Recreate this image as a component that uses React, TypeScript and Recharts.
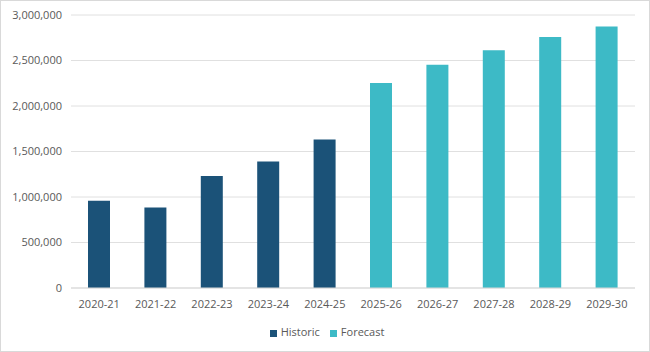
import { Bar, BarChart, CartesianGrid, Legend, XAxis, YAxis } from 'recharts';

const years = ['2020-21', '2021-22', '2022-23', '2023-24', '2024-25', '2025-26', '2026-27', '2027-28', '2028-29', '2029-30'];
const historic = [960000, 885000, 1232000, 1390000, 1632000, null, null, null, null, null];
const forecast = [null, null, null, null, null, 2253000, 2452000, 2614000, 2757000, 2875000];
const yTicks = [0, 500000, 1000000, 1500000, 2000000, 2500000, 3000000];

const data = years.map((year, i) => ({
  year,
  historic: historic[i],
  forecast: forecast[i],
}));

const fmt = (v: number) => v.toLocaleString('en-US');
const legendOrder = ['Historic', 'Forecast'];

export default function App() {
  return (
    <div
      style={{
        position: 'fixed',
        left: 0,
        top: 0,
        width: 650,
        height: 352,
        boxSizing: 'border-box',
        border: '1px solid #d9d9d9',
        background: '#fff',
        fontFamily: '"Open Sans", sans-serif',
      }}
    >
      <BarChart width={648} height={350} data={data} margin={{ top: 14, right: 14, left: 0, bottom: 12 }}>
        <CartesianGrid stroke="#e0e0e0" vertical={false} />
        <XAxis
          dataKey="year"
          tick={{ fontSize: 11, fill: '#595959' }}
          tickLine={false}
          axisLine={{ stroke: '#d9d9d9' }}
          interval={0}
          tickMargin={6}
          height={36}
        />
        <YAxis
          width={70}
          domain={[0, 3000000]}
          ticks={yTicks}
          tickFormatter={fmt}
          tick={{ fontSize: 11, fill: '#595959' }}
          tickLine={false}
          axisLine={false}
          tickMargin={3}
        />
        <Legend
          iconType="square"
          iconSize={7}
          itemSorter={(item: any) => legendOrder.indexOf(item.value)}
          wrapperStyle={{ fontSize: 11, color: '#595959', left: 14 }}
          formatter={(value) => <span style={{ color: '#595959' }}>{value}</span>}
        />
        <Bar dataKey="historic" name="Historic" stackId="a" fill="#1b5278" barSize={22} isAnimationActive={false} />
        <Bar dataKey="forecast" name="Forecast" stackId="a" fill="#3dbac6" barSize={22} isAnimationActive={false} />
      </BarChart>
    </div>
  );
}
